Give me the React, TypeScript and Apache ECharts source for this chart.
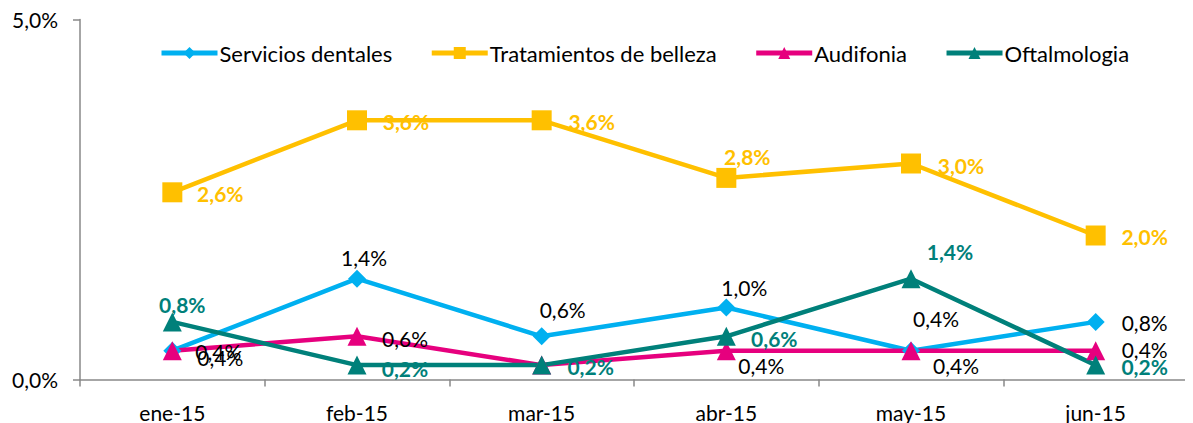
import React, { useEffect, useRef } from "react";
import * as echarts from "echarts";

const categories = ["ene-15", "feb-15", "mar-15", "abr-15", "may-15", "jun-15"];
const dentales = [0.4, 1.4, 0.6, 1.0, 0.4, 0.8];
const belleza = [2.6, 3.6, 3.6, 2.8, 3.0, 2.0];
const audifonia = [0.4, 0.6, 0.2, 0.4, 0.4, 0.4];
const oftalmologia = [0.8, 0.2, 0.2, 0.6, 1.4, 0.2];

const FONT = "Lato, 'Open Sans', sans-serif";
const fmt = (v: number) => v.toFixed(1).replace(".", ",") + "%";

// label centre offsets relative to the point (styling only)
const dentalesOff: ([number, number] | null)[] = [[48, 7], [7, -21], [21, -27], [18, -20], [25, -32], [49, 1]];
const bellezaOff: ([number, number] | null)[] = [[48, 1], [49, 1], [50, 1], [21, -21], [50, 2], [49, 1]];
const audifoniaOff: ([number, number] | null)[] = [[46, 1], [48, 2], null, [35, 15], [45, 15], [49, -1]];
const oftalmologiaOff: ([number, number] | null)[] = [[10, -17], [48, 3], [49, 1], [48, 2], [39, -27], [49, 1]];

const mk = (vals: number[], offs: ([number, number] | null)[]) =>
  vals.map((v, i) => ({
    value: v,
    label: offs[i]
      ? { show: true, position: "inside", offset: offs[i] }
      : { show: false },
  }));

export default function App() {
  const ref = useRef<HTMLDivElement>(null);
  useEffect(() => {
    const chart = echarts.init(ref.current!, undefined, { renderer: "svg" });
    const baseLabel = (color: string, bold: boolean) => ({
      show: true,
      color,
      fontSize: 21,
      fontFamily: FONT,
      fontWeight: bold ? "bold" : "normal",
      formatter: (p: any) => fmt(p.value),
    });
    const lineW = 4.5;
    chart.setOption({
      animation: false,
      backgroundColor: "#fff",
      grid: { left: 72, right: 5, top: 11.5, bottom: 43.5 },
      legend: {
        top: 29,
        left: 146,
        itemWidth: 56,
        itemHeight: 15,
        itemGap: 37,
        lineStyle: { width: 5 },
        textStyle: { fontSize: 22, fontFamily: FONT, color: "#000", padding: [0, 0, 0, -3] },
        data: ["Servicios dentales", "Tratamientos de belleza", "Audifonia", "Oftalmologia"],
      },
      xAxis: {
        type: "category",
        data: categories,
        boundaryGap: true,
        axisLine: { lineStyle: { color: "#898989", width: 1.5 } },
        axisTick: { show: true, alignWithLabel: false, length: 7, lineStyle: { color: "#898989", width: 1.5 } },
        axisLabel: { fontSize: 21, fontFamily: FONT, color: "#000", margin: 22 },
      },
      yAxis: {
        type: "value",
        min: 0,
        max: 5,
        interval: 5,
        axisLine: { show: true, lineStyle: { color: "#898989", width: 1.5 } },
        axisTick: { show: true, length: 7, lineStyle: { color: "#898989", width: 1.5 } },
        splitLine: { show: false },
        axisLabel: { fontSize: 21, fontFamily: FONT, color: "#000", margin: 22, formatter: (v: number) => fmt(v) },
      },
      series: [
        {
          name: "Servicios dentales",
          type: "line",
          symbol: "diamond",
          symbolSize: 18,
          color: "#00B0F0",
          lineStyle: { width: lineW },
          label: baseLabel("#000", false),
          data: mk(dentales, dentalesOff),
        },
        {
          name: "Tratamientos de belleza",
          type: "line",
          symbol: "rect",
          symbolSize: 20,
          color: "#FFC000",
          lineStyle: { width: lineW },
          label: baseLabel("#FFC000", true),
          data: mk(belleza, bellezaOff),
        },
        {
          name: "Audifonia",
          type: "line",
          symbol: "triangle",
          symbolSize: 19,
          color: "#E6007E",
          lineStyle: { width: lineW },
          label: baseLabel("#000", false),
          data: mk(audifonia, audifoniaOff),
        },
        {
          name: "Oftalmologia",
          type: "line",
          symbol: "triangle",
          symbolSize: 19,
          color: "#00807A",
          lineStyle: { width: lineW },
          label: baseLabel("#00807A", true),
          data: mk(oftalmologia, oftalmologiaOff),
        },
      ],
    });
    return () => chart.dispose();
  }, []);
  return <div ref={ref} style={{ width: 1185, height: 415 }} />;
}
